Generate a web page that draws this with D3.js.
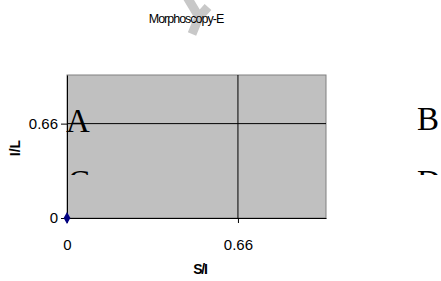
<!DOCTYPE html>
<html>
<head>
<meta charset="utf-8">
<script src="https://cdn.jsdelivr.net/npm/d3@7"></script>
<style>
    body { margin: 0; background: #fff; }
    svg { display: block; }
    .tick text { font-family: "Liberation Sans", Arial, sans-serif; font-size: 15px; fill: #000; }
</style>
</head>
<body>
<div id="chart"></div>
<script>
'use strict';

var title = 'Morphoscopy-E';
var xTitle = 'S/I';
var yTitle = 'I/L';
var tickValues = [0, 0.66];
var tickLabels = ['0', '0.66'];
var limits = [0, 0.66];
var pointsX = [0];
var pointsY = [0];
var quadrants = ['A', 'B', 'C', 'D'];

var width = 441, height = 281;
var plot = { left: 67, right: 326, top: 75, bottom: 218 };

var svg = d3.select('#chart').append('svg')
    .attr('width', width)
    .attr('height', height);

var x = d3.scaleLinear().domain([0, 1]).range([plot.left, plot.right]);
var y = d3.scaleLinear().domain([0, 1]).range([plot.bottom, plot.top]);

// faded logo behind the title
svg.append('path')
    .attr('d', 'M187,-3 L199,17 M199,17 L208,7 M199,17 L192,34')
    .style('fill', 'none')
    .style('stroke', '#c8c8c8')
    .style('stroke-width', 9);

svg.append('text')
    .attr('x', 186)
    .attr('y', 23)
    .attr('text-anchor', 'middle')
    .style('font-family', '"Liberation Sans", Arial, sans-serif')
    .style('font-size', '12.5px')
    .style('letter-spacing', '-1px')
    .text(title);

// plot area
svg.append('rect')
    .attr('x', plot.left)
    .attr('y', plot.top)
    .attr('width', plot.right - plot.left)
    .attr('height', plot.bottom - plot.top)
    .style('fill', '#c0c0c0')
    .style('stroke', '#808080')
    .style('stroke-width', 1);

// gridlines at the limits
svg.selectAll('line.vgrid')
    .data(limits.filter(function(d) { return d > 0; }))
    .enter().append('line')
    .attr('class', 'vgrid')
    .attr('x1', function(d) { return x(d); })
    .attr('x2', function(d) { return x(d); })
    .attr('y1', plot.top)
    .attr('y2', plot.bottom)
    .style('stroke', '#000');

svg.selectAll('line.hgrid')
    .data(limits.filter(function(d) { return d > 0; }))
    .enter().append('line')
    .attr('class', 'hgrid')
    .attr('y1', function(d) { return y(d); })
    .attr('y2', function(d) { return y(d); })
    .attr('x1', plot.left)
    .attr('x2', plot.right)
    .style('stroke', '#000');

var xAxis = d3.axisBottom(x)
    .tickValues(tickValues)
    .tickFormat(function(d, i) { return tickLabels[i]; })
    .tickSize(5)
    .tickSizeOuter(0)
    .tickPadding(16);

var yAxis = d3.axisLeft(y)
    .tickValues(tickValues)
    .tickFormat(function(d, i) { return tickLabels[i]; })
    .tickSize(6)
    .tickSizeOuter(0)
    .tickPadding(3);

var gx = svg.append('g')
    .attr('transform', 'translate(0,' + plot.bottom + ')')
    .call(xAxis);
var gy = svg.append('g')
    .attr('transform', 'translate(' + plot.left + ',0)')
    .call(yAxis);

[gx, gy].forEach(function(g) {
    g.select('.domain').style('stroke', '#000');
    g.selectAll('.tick line').style('stroke', '#000');
});

svg.append('text')
    .attr('x', 200)
    .attr('y', 274)
    .attr('text-anchor', 'middle')
    .style('font-family', '"Liberation Sans", Arial, sans-serif')
    .style('font-size', '14px')
    .style('font-weight', 'bold')
    .style('letter-spacing', '-1.2px')
    .text(xTitle);

svg.append('text')
    .attr('transform', 'translate(20,148) rotate(-90)')
    .attr('text-anchor', 'middle')
    .style('font-family', '"Liberation Sans", Arial, sans-serif')
    .style('font-size', '14px')
    .style('font-weight', 'bold')
    .text(yTitle);

// quadrant letters (text boxes clip their content)
var boxes = [
    { x: 66, y: 98, w: 40, h: 40, bx: 66, by: 132 },
    { x: 414, y: 98, w: 27, h: 40, bx: 417, by: 130 },
    { x: 66, y: 160, w: 40, h: 15, bx: 68, by: 193 },
    { x: 414, y: 160, w: 27, h: 15, bx: 417, by: 193 }
];
var defs = svg.append('defs');
boxes.forEach(function(b, i) {
    defs.append('clipPath').attr('id', 'clipBox' + i)
        .append('rect')
        .attr('x', b.x).attr('y', b.y).attr('width', b.w).attr('height', b.h);
    svg.append('text')
        .attr('x', b.bx)
        .attr('y', b.by)
        .attr('clip-path', 'url(#clipBox' + i + ')')
        .style('font-family', '"Liberation Serif", "Times New Roman", serif')
        .style('font-size', '33px')
        .text(quadrants[i]);
});

// data points
svg.selectAll('path.point')
    .data(pointsX.map(function(d, i) { return [d, pointsY[i]]; }))
    .enter().append('path')
    .attr('class', 'point')
    .attr('d', d3.symbol().type(d3.symbolDiamond).size(40))
    .attr('transform', function(d) { return 'translate(' + x(d[0]) + ',' + y(d[1]) + ')'; })
    .style('fill', '#000080');
</script>
</body>
</html>
